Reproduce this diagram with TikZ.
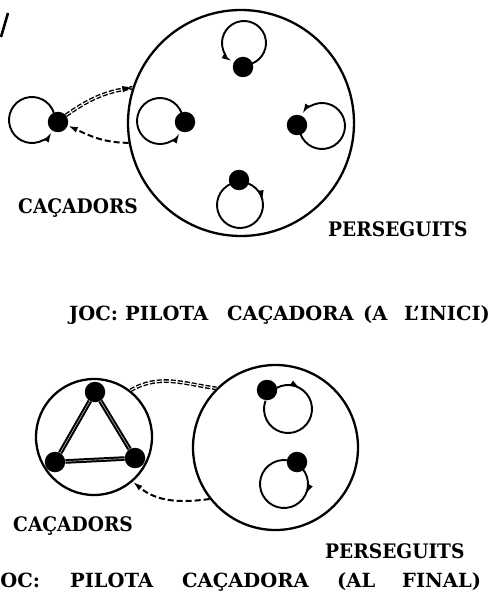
\documentclass[tikz,border=0pt]{standalone}
\usepackage{fontspec}
\setmainfont{DejaVu Serif}
\newfontfamily\lblfont[FakeStretch=0.93]{DejaVu Serif}
\usetikzlibrary{arrows.meta,decorations.markings}
\tikzset{
 dot/.style={circle, fill=black, inner sep=0pt, minimum size=20.5pt},
 ring/.style={circle, draw=black, line width=2.3pt, inner sep=0pt, minimum size=#1},
 loopline/.style={line width=1.9pt},
 endtip/.style={-{Latex[length=11pt,width=5.5pt]}},
 midtip/.style={postaction={decorate}, decoration={markings, mark=at position #1 with {\arrow{Latex[length=11pt,width=5.5pt]}}}},
 dbldash/.style={line width=1.4pt, double=white, double distance=1pt, dash pattern=on 5pt off 2pt,
   postaction={decorate}, decoration={markings, mark=at position 1 with {\arrow[line width=0.8pt]{Latex[length=10pt,width=6.5pt]}}}},
 sgldash/.style={line width=2pt, dash pattern=on 6pt off 3pt, -{Latex[length=10pt,width=6pt]}},
 triedge/.style={line width=2pt, double=gray!55, double distance=0.6pt},
 lbl/.style={anchor=base west, inner sep=0pt, font=\lblfont\fontsize{20}{23}\selectfont\bfseries},
 ttl/.style={anchor=base west, inner sep=0pt, font=\fontsize{19.5}{23}\selectfont\bfseries},
}
\begin{document}
\begin{tikzpicture}[x=1pt,y=1pt]
\useasboundingbox[fill=white] (0,0) rectangle (494,-604);
% stray slash
\coordinate (s1) at (8,-13);
\coordinate (s2) at (1,-37);
\draw[line width=2.6pt] (s1) -- (s2);

% ---------- top diagram ----------
\node[ring=226pt] (bigA) at (241,-123) {};
\node[dot] (hunt) at (58,-122) {};
\node[dot] (pt) at (243,-67) {};
\node[dot] (pl) at (185,-122) {};
\node[dot] (pr) at (297,-125) {};
\node[dot] (pb) at (239,-180) {};

\draw[loopline, endtip] (hunt) ++(-26,2) ++(18:23) arc[start angle=18, end angle=330, radius=23];
\draw[loopline, endtip] (pt) ++(1,24) ++(-70:22) arc[start angle=-70, end angle=238, radius=22];
\draw[loopline, endtip] (pl) ++(-25,1) ++(20:23) arc[start angle=20, end angle=330, radius=23];
\draw[loopline, endtip] (pr) ++(25,-1) ++(200:23) arc[start angle=200, end angle=510, radius=23];
\draw[loopline, midtip=0.19] (pb) ++(1,-25) ++(70:23) arc[start angle=70, end angle=-250, radius=23];

\draw[dbldash] (hunt.40) to[out=35, in=188] (bigA.162);
\draw[sgldash] (bigA.190) to[out=180, in=-25] (hunt.-20);

\node[lbl] (cacA) at (18,-213) {CAÇADORS};
\node[lbl] (perA) at (328,-236) {PERSEGUITS};
\node[ttl] (titA) at (69,-320) {\makebox[56pt][l]{JOC:}\makebox[102pt][l]{PILOTA}\makebox[136pt][l]{CAÇADORA}\makebox[41pt][l]{(A}L’INICI)};

% ---------- bottom diagram ----------
\node[ring=116pt] (smallB) at (94,-437) {};
\node[ring=165pt] (bigB) at (275.5,-447.5) {};
\node[dot] (t1) at (95,-392) {};
\node[dot] (t2) at (55,-462) {};
\node[dot] (t3) at (135,-458) {};
\draw[triedge] (t1) -- (t2);
\draw[triedge] (t2) -- (t3);
\draw[triedge] (t3) -- (t1);

\node[dot] (u1) at (267,-390) {};
\node[dot] (u2) at (297,-462) {};
\draw[loopline, midtip=0.19] (u1) ++(21,-19) ++(118:24) arc[start angle=118, end angle=-200, radius=24];
\draw[loopline, midtip=0.21] (u2) ++(-13,-22) ++(40:24) arc[start angle=40, end angle=-280, radius=24];

\draw[dbldash] (smallB.52) to[out=30, in=172] (bigB.135);
\draw[sgldash] (bigB.218) to[out=188, in=-40] (smallB.-49);

\node[lbl] (cacB) at (13,-531) {CAÇADORS};
\node[lbl] (perB) at (325,-558) {PERSEGUITS};
\node[ttl] (titB) at (-9,-587) {\makebox[79pt][l]{JOC:}\makebox[112pt][l]{PILOTA}\makebox[155pt][l]{CAÇADORA}\makebox[65pt][l]{(AL}FINAL)};
\end{tikzpicture}
\end{document}
